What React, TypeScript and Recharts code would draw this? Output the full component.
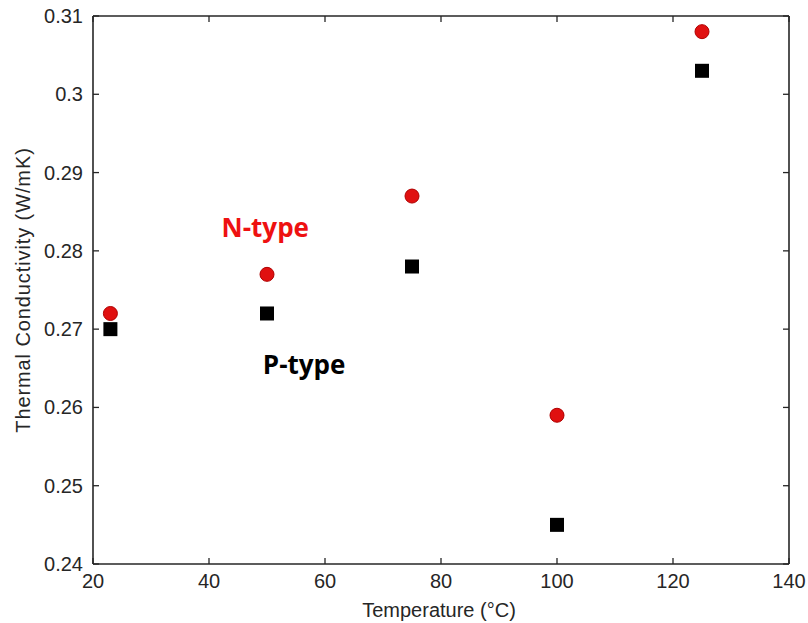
import {
  ScatterChart,
  Scatter,
  XAxis,
  YAxis,
  ReferenceDot,
} from "recharts";

const temps = [23, 50, 75, 100, 125];
const nType = [0.272, 0.277, 0.287, 0.259, 0.308];
const pType = [0.27, 0.272, 0.278, 0.245, 0.303];
const xTicks = [20, 40, 60, 80, 100, 120, 140];
const yTicks = [0.24, 0.25, 0.26, 0.27, 0.28, 0.29, 0.3, 0.31];

const nData = temps.map((t, i) => ({ t, k: nType[i] }));
const pData = temps.map((t, i) => ({ t, k: pType[i] }));

const INK = "#262626";
const FONT = "'Liberation Sans', Arial, sans-serif";
const AXIS_LINE = { stroke: INK, strokeWidth: 1.6 };

function BottomTick({ x, y, payload }: any) {
  return (
    <g>
      <line x1={x} y1={y} x2={x} y2={y - 6} stroke={INK} strokeWidth={1.3} />
      <text x={x} y={y + 24} textAnchor="middle" fill={INK} fontSize={20} fontFamily={FONT}>
        {payload.value}
      </text>
    </g>
  );
}

function LeftTick({ x, y, payload }: any) {
  return (
    <g>
      <line x1={x} y1={y} x2={x + 6} y2={y} stroke={INK} strokeWidth={1.3} />
      <text x={x - 10} y={y + 7} textAnchor="end" fill={INK} fontSize={20} fontFamily={FONT}>
        {String(payload.value)}
      </text>
    </g>
  );
}

function TopTick({ x, y }: any) {
  return <line x1={x} y1={y} x2={x} y2={y + 6} stroke={INK} strokeWidth={1.3} />;
}

function RightTick({ x, y }: any) {
  return <line x1={x} y1={y} x2={x - 6} y2={y} stroke={INK} strokeWidth={1.3} />;
}

function Dot({ cx, cy }: any) {
  return <circle cx={cx} cy={cy} r={7} fill="#e01010" stroke="#b00000" strokeWidth={1} />;
}

function Square({ cx, cy }: any) {
  return <rect x={cx - 7} y={cy - 7} width={14} height={14} fill="#000" />;
}

export default function App() {
  return (
    <div style={{ position: "absolute", left: 0, top: 0, background: "#fff" }}>
      <ScatterChart width={808} height={623} margin={{ top: 15, right: 18, bottom: 0, left: 0 }}>
        <XAxis
          dataKey="t"
          type="number"
          domain={[20, 140]}
          ticks={xTicks}
          height={59}
          tickSize={0}
          tickMargin={0}
          tick={<BottomTick />}
          axisLine={AXIS_LINE}
          label={{
            value: "Temperature (°C)",
            position: "insideBottom",
            offset: 6,
            dx: -2,
            fill: INK,
            fontSize: 20,
            fontFamily: FONT,
          }}
        />
        <XAxis
          xAxisId="top"
          dataKey="t"
          orientation="top"
          type="number"
          domain={[20, 140]}
          ticks={xTicks}
          height={1}
          tickSize={0}
          tickMargin={0}
          tick={<TopTick />}
          axisLine={AXIS_LINE}
        />
        <YAxis
          dataKey="k"
          type="number"
          domain={[0.24, 0.31]}
          ticks={yTicks}
          width={93}
          tickSize={0}
          tickMargin={0}
          tick={<LeftTick />}
          axisLine={AXIS_LINE}
          label={{
            value: "Thermal Conductivity (W/mK)",
            angle: -90,
            position: "center",
            dx: -24,
            fill: INK,
            fontSize: 20,
            fontFamily: FONT,
            letterSpacing: 0.9,
          }}
        />
        <YAxis
          yAxisId="right"
          dataKey="k"
          orientation="right"
          type="number"
          domain={[0.24, 0.31]}
          ticks={yTicks}
          width={1}
          tickSize={0}
          tickMargin={0}
          tick={<RightTick />}
          axisLine={AXIS_LINE}
        />
        <Scatter data={nData} shape={<Dot />} isAnimationActive={false} />
        <Scatter
          data={pData}
          xAxisId="top"
          yAxisId="right"
          shape={<Square />}
          isAnimationActive={false}
        />
        <ReferenceDot
          x={49.7}
          y={0.2829}
          r={0}
          ifOverflow="visible"
          label={{
            value: "N-type",
            position: "center",
            fill: "#ee1111",
            fontSize: 26,
            fontWeight: 700,
            fontFamily: "'Open Sans', sans-serif",
          }}
        />
        <ReferenceDot
          x={56.4}
          y={0.2654}
          r={0}
          ifOverflow="visible"
          label={{
            value: "P-type",
            position: "center",
            fill: "#000",
            fontSize: 26,
            fontWeight: 700,
            fontFamily: "'Open Sans', sans-serif",
          }}
        />
      </ScatterChart>
    </div>
  );
}
